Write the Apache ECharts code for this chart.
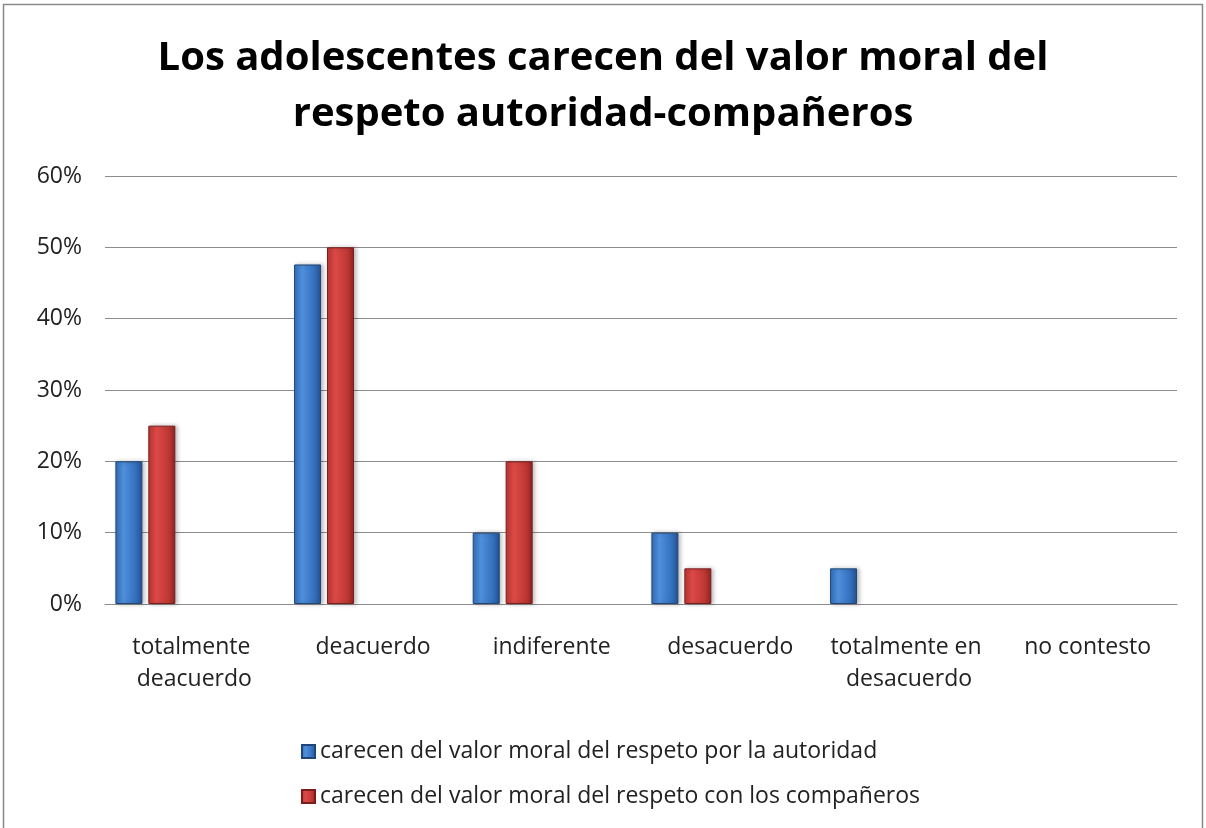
<!DOCTYPE html>
<html>
<head>
<meta charset="utf-8">
<title>Los adolescentes carecen del valor moral</title>
<script src="https://cdn.jsdelivr.net/npm/echarts@6/dist/echarts.min.js"></script>
<style>
  html, body { margin: 0; padding: 0; background: #fff; }
  #chart { width: 1206px; height: 828px; }
</style>
</head>
<body>
<div id="chart"></div>
<script>
// datos (porcentajes)
var categorias = ["totalmente deacuerdo", "deacuerdo", "indiferente", "desacuerdo", "totalmente en desacuerdo", "no contesto"];
var serieAutoridad = [20, 47.6, 10, 10, 5, 0];
var serieCompaneros = [25, 50, 20, 5, 0, 0];
var nombreAutoridad = "carecen del valor moral del respeto por la autoridad";
var nombreCompaneros = "carecen del valor moral del respeto con los compañeros";
var ticksY = [0, 10, 20, 30, 40, 50, 60];

var fuente = "'Open Sans', 'Noto Sans', sans-serif";

function degradado(claro, medio, oscuro) {
  return new echarts.graphic.LinearGradient(0, 0, 1, 0, [
    { offset: 0, color: medio },
    { offset: 0.3, color: claro },
    { offset: 0.75, color: medio },
    { offset: 1, color: oscuro }
  ]);
}

// las columnas en cero no se dibujan (sin borde ni sombra)
function sinCeros(arr) {
  return arr.map(function (v) {
    if (v === 0) {
      return { value: 0, itemStyle: { borderWidth: 0, shadowBlur: 0, opacity: 0 } };
    }
    return v;
  });
}

var chart = echarts.init(document.getElementById("chart"));

var option = {
  backgroundColor: "#fff",
  animation: false,
  title: {
    text: "Los adolescentes carecen del valor moral del\nrespeto autoridad-compañeros",
    left: "center",
    top: 26,
    textStyle: {
      fontFamily: fuente,
      fontWeight: "bold",
      fontSize: 40,
      lineHeight: 56,
      color: "#000"
    }
  },
  legend: {
    data: [nombreAutoridad, nombreCompaneros],
    orient: "vertical",
    left: 296,
    top: 735,
    itemWidth: 13,
    itemHeight: 13,
    itemGap: 22,
    icon: "rect",
    textStyle: { fontFamily: fuente, fontSize: 23, color: "#222" }
  },
  grid: { left: 105, right: 29, top: 176, bottom: 224 },
  xAxis: {
    type: "category",
    data: categorias,
    axisLine: { lineStyle: { color: "#8c8c8c", width: 1 } },
    axisTick: { show: false },
    axisLabel: {
      fontFamily: fuente,
      fontSize: 23,
      color: "#222",
      margin: 27,
      lineHeight: 32,
      width: 170,
      overflow: "break",
      interval: 0
    }
  },
  yAxis: {
    type: "value",
    min: ticksY[0],
    max: ticksY[ticksY.length - 1],
    interval: 10,
    axisLine: { show: false },
    axisTick: { show: false },
    splitLine: { lineStyle: { color: "#8c8c8c", width: 1 } },
    axisLabel: {
      fontFamily: fuente,
      fontSize: 23,
      color: "#222",
      margin: 23,
      formatter: "{value}%"
    }
  },
  series: [
    {
      name: nombreAutoridad,
      type: "bar",
      data: sinCeros(serieAutoridad),
      barWidth: 27,
      barGap: "22%",
      itemStyle: {
        color: degradado("#4f8fdc", "#3470bd", "#24518e"),
        borderColor: "#1f4676",
        borderWidth: 1,
        shadowColor: "rgba(0,0,0,0.25)",
        shadowBlur: 4,
        shadowOffsetX: 2
      }
    },
    {
      name: nombreCompaneros,
      type: "bar",
      data: sinCeros(serieCompaneros),
      barWidth: 27,
      itemStyle: {
        color: degradado("#dc4a47", "#bf3734", "#8e2422"),
        borderColor: "#7a1e1c",
        borderWidth: 1,
        shadowColor: "rgba(0,0,0,0.25)",
        shadowBlur: 4,
        shadowOffsetX: 2
      }
    },
    {
      // hueco vacio: en el original las columnas quedan a la izquierda de cada categoria
      name: "_hueco",
      type: "bar",
      data: [],
      barWidth: 92,
      silent: true
    }
  ],
  graphic: [
    {
      type: "rect",
      shape: { x: 3.5, y: 4.5, width: 1199, height: 830 },
      style: { fill: null, stroke: "#8a8a8a", lineWidth: 1.5 },
      silent: true
    }
  ]
};

chart.setOption(option);
</script>
</body>
</html>
